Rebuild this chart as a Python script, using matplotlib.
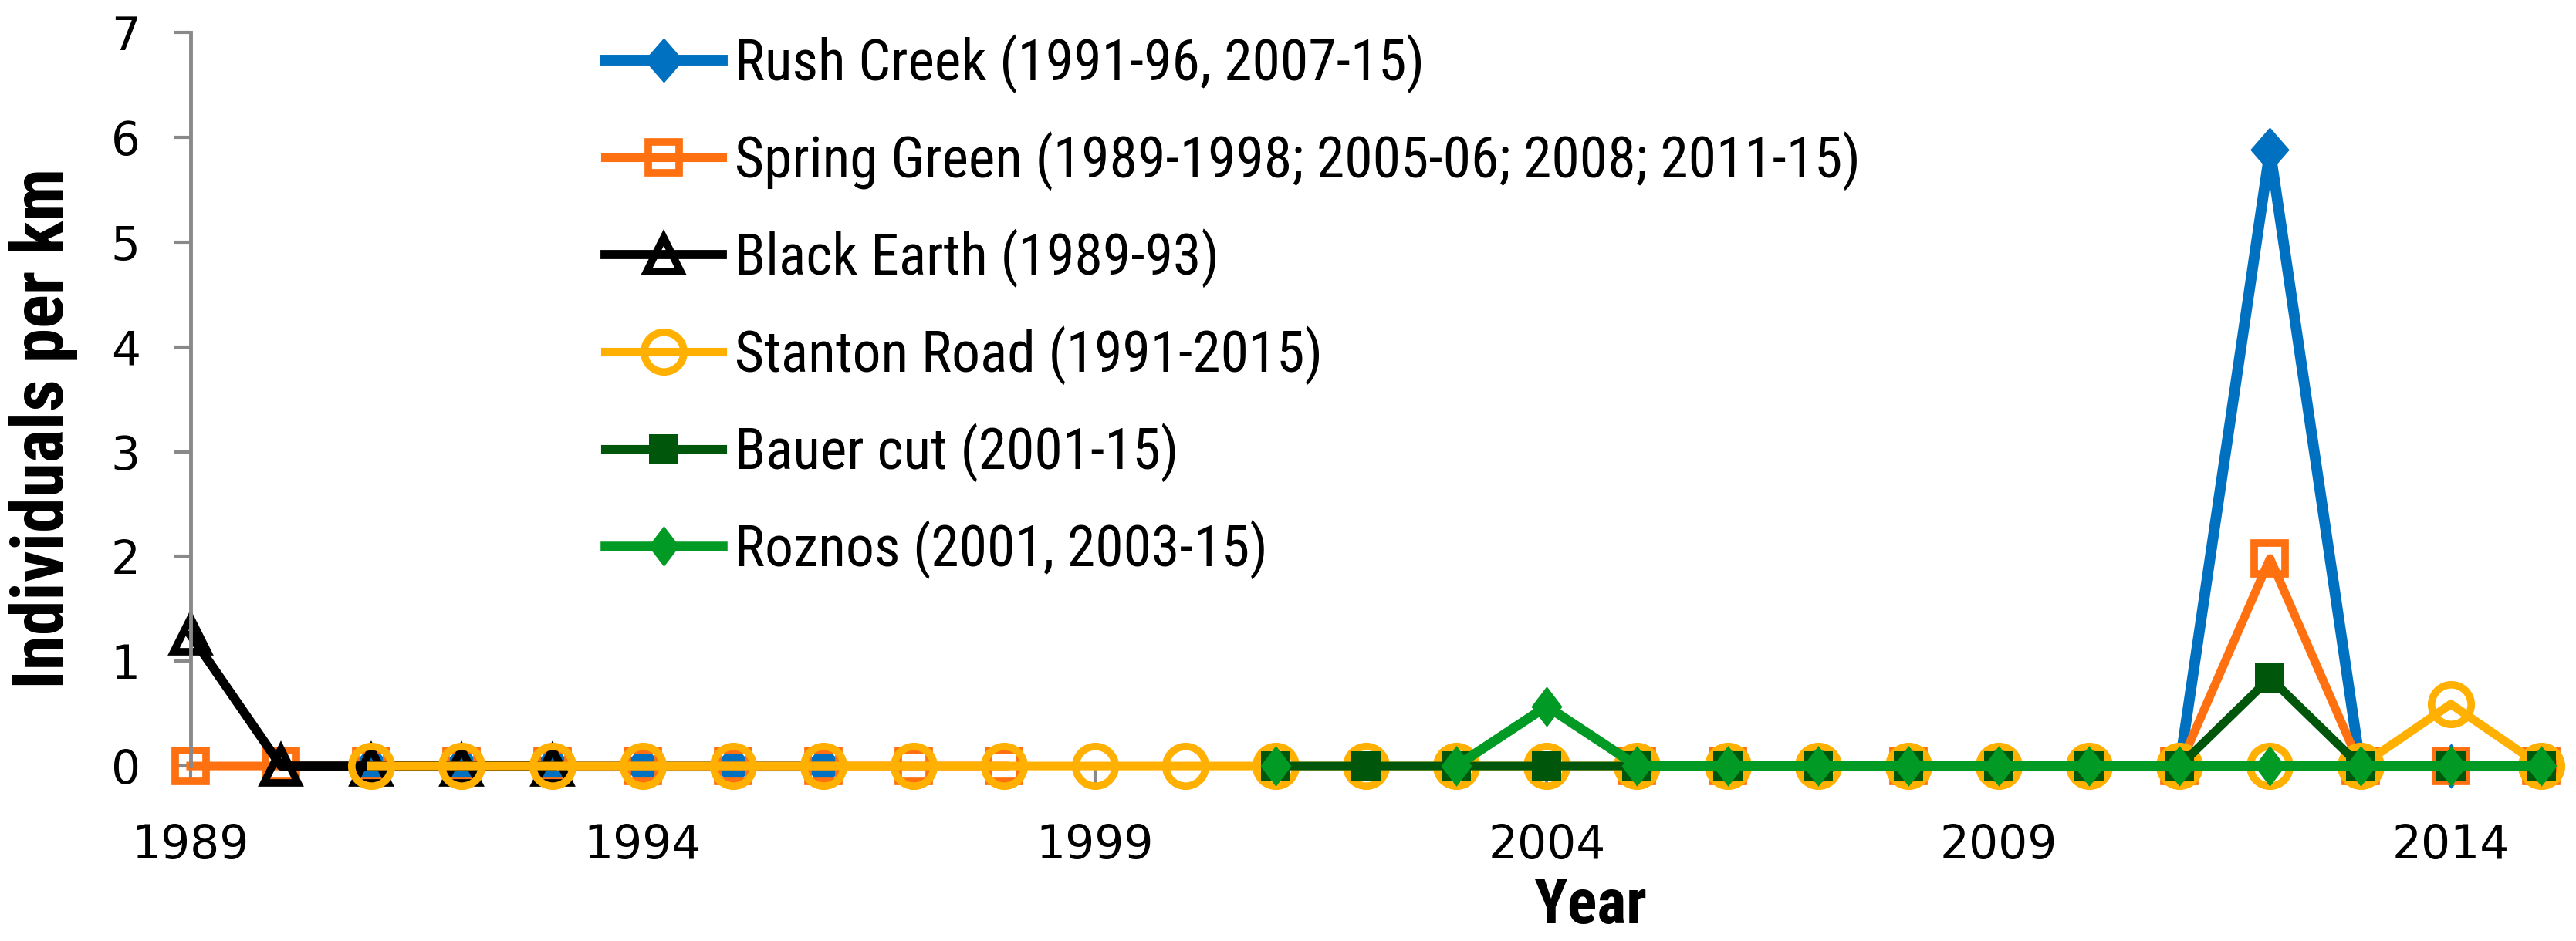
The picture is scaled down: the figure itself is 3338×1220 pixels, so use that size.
import numpy as np
import matplotlib.pyplot as plt
from matplotlib import font_manager

nan = np.nan
years = list(range(1989, 2016))

# values per year, 1989..2015 (nan = not surveyed)
rush_creek = [nan, nan, 0, 0, 0, 0, 0, 0,
              nan, nan, nan, nan, nan, nan, nan, nan, nan, nan,
              0, 0, 0, 0, 0, 5.88, 0, 0, 0]
spring_green = [0, 0, 0, 0, 0, 0, 0, 0, 0, 0,
                nan, nan, nan, nan, nan, nan,
                0, 0, nan, 0, nan, nan,
                0, 1.98, 0, 0, 0]
black_earth = [1.25, 0, 0, 0, 0] + [nan] * 22
stanton_road = [nan, nan] + [0] * 23 + [0.59, 0]
bauer_cut = [nan] * 12 + [0] * 11 + [0.84, 0, 0, 0]
roznos = [nan] * 12 + [0, nan, 0, 0.57] + [0] * 11

labels = ["Rush Creek (1991-96, 2007-15)",
          "Spring Green (1989-1998; 2005-06; 2008; 2011-15)",
          "Black Earth (1989-93)",
          "Stanton Road (1991-2015)",
          "Bauer cut (2001-15)",
          "Roznos (2001, 2003-15)"]

# a narrow face like the original if there is one
names = {f.name for f in font_manager.fontManager.ttflist}
narrow = "Lato"
for cand in ["Liberation Sans Narrow", "Roboto Condensed", "DejaVu Sans Condensed"]:
    if cand in names:
        narrow = cand
        break

# diamonds a bit narrower than tall, like Excel's
wide_diamond = [(0, 1), (0.87, 0), (0, -1), (-0.87, 0), (0, 1)]
thin_diamond = [(0, 1), (0.76, 0), (0, -1), (-0.76, 0), (0, 1)]

fig = plt.figure(figsize=(33.38, 12.2), dpi=100)
ax = fig.add_axes([0.074, 0.186, 0.9125, 0.7795])

ax.plot(years, rush_creek, color="#0070C0", lw=10, marker=wide_diamond, ms=42,
        mfc="#0070C0", mec="#0070C0", mew=0, label=labels[0], clip_on=False)
ax.plot(years, spring_green, color="#FF7010", lw=8, marker="s", ms=29,
        mfc="none", mec="#FF7010", mew=7, label=labels[1], clip_on=False)
ax.plot(years, black_earth, color="black", lw=8.5, marker="^", ms=31,
        mfc="none", mec="black", mew=7, label=labels[2], clip_on=False)
ax.plot(years, stanton_road, color="#FFB000", lw=8, marker="o", ms=37,
        mfc="none", mec="#FFB000", mew=7, label=labels[3], clip_on=False)
ax.plot(years, bauer_cut, color="#00570B", lw=8, marker="s", ms=28,
        mfc="#00570B", mec="#00570B", mew=0, label=labels[4], clip_on=False)
ax.plot(years, roznos, color="#009A25", lw=9, marker=thin_diamond, ms=38,
        mfc="#009A25", mec="#009A25", mew=0, label=labels[5], clip_on=False)

ax.set_xlim(1989, 2015)
ax.set_ylim(0, 7)
ax.set_xticks(range(1989, 2016, 5))
ax.set_yticks(range(0, 8))

for side in ["top", "right"]:
    ax.spines[side].set_visible(False)
for side in ["left", "bottom"]:
    ax.spines[side].set_color("#898989")
    ax.spines[side].set_linewidth(3.5)
ax.spines["bottom"].set_zorder(0)

ax.tick_params(axis="both", colors="#898989", width=3, labelcolor="black",
               labelsize=43)
ax.tick_params(axis="x", length=17, pad=36)
ax.tick_params(axis="y", length=16, pad=31)

ax.set_ylabel("Individuals per km", family=narrow, fontweight="bold", fontsize=66)
ax.yaxis.label.set_va("baseline")
ax.yaxis.set_label_coords(-0.0542, 0.4605)
ax.set_xlabel("Year", family=narrow, fontweight="bold", fontsize=58)
ax.xaxis.label.set_va("baseline")
ax.xaxis.set_label_coords(0.5956, -0.214)

leg = ax.legend(loc="upper left", bbox_to_anchor=(0.1764, 0.998), frameon=False,
                prop={"family": narrow, "size": 53}, handlelength=2.06,
                handletextpad=0.22, labelspacing=0.67, borderpad=0,
                borderaxespad=0)

plt.savefig("out.png", dpi=100)
